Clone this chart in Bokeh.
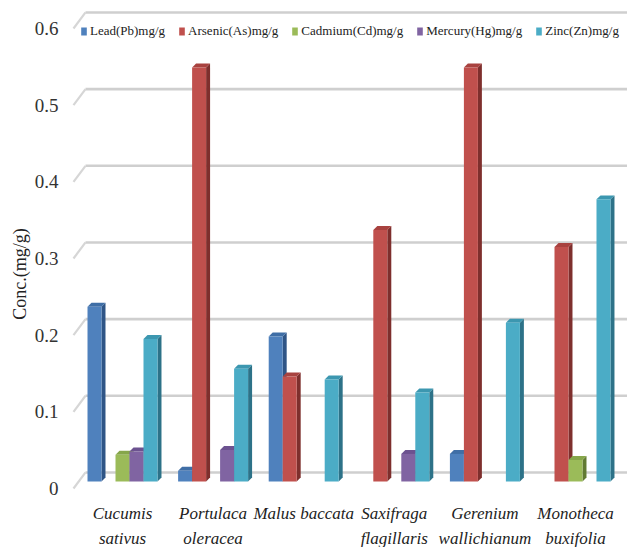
from bokeh.plotting import figure
from bokeh.models import Range1d, FixedTicker, Legend, LegendItem, ColumnDataSource
from bokeh.core.properties import value
from bokeh.embed import file_html
from bokeh.resources import INLINE

# ---- data -------------------------------------------------------------
species_line1 = ["Cucumis", "Portulaca", "Malus baccata", "Saxifraga", "Gerenium", "Monotheca"]
species_line2 = ["sativus", "oleracea", "", "flagillaris", "wallichianum", "buxifolia"]

series_names = ["Lead(Pb)mg/g", "Arsenic(As)mg/g", "Cadmium(Cd)mg/g",
                "Mercury(Hg)mg/g", "Zinc(Zn)mg/g"]
lead = [0.228, 0.014, 0.189, 0.0, 0.036, 0.0]
arsenic = [0.0, 0.540, 0.137, 0.328, 0.540, 0.306]
cadmium = [0.035, 0.0, 0.0, 0.0, 0.0, 0.028]
mercury = [0.039, 0.041, 0.0, 0.036, 0.0, 0.0]
zinc = [0.186, 0.147, 0.133, 0.116, 0.207, 0.368]

y_ticks = [0, 0.1, 0.2, 0.3, 0.4, 0.5, 0.6]
y_tick_labels = ["0", "0.1", "0.2", "0.3", "0.4", "0.5", "0.6"]

# front, top and side shades for each series
front_colors = ["#4F81BD", "#C0504D", "#9BBB59", "#8064A2", "#4BACC6"]
top_colors = ["#3F6EA6", "#A8423F", "#86A64A", "#6C5290", "#3C97B0"]
side_colors = ["#2F5586", "#7E2F2D", "#617A33", "#503C6C", "#2D7288"]

all_series = [lead, arsenic, cadmium, mercury, zinc]

SERIF = "serif"

# ---- geometry (data units) --------------------------------------------
bar_w = 0.1545          # width of one bar inside a group
depth_x = 0.044         # 3-D extrusion to the right
depth_y = 0.0052        # 3-D extrusion upwards
floor = 0.0091          # front floor level of the bars
wall = 0.0209           # back wall shift of the gridlines
x_lo, x_hi = -0.574, 5.574
y_lo, y_hi = -0.077, 0.6365

p = figure(width=627, height=547, output_backend="svg", toolbar_location=None,
           x_range=Range1d(x_lo, x_hi), y_range=Range1d(y_lo, y_hi),
           min_border_left=70, min_border_right=0, min_border_top=0,
           min_border_bottom=0, outline_line_color=None,
           background_fill_color="white", border_fill_color="white")
p.xaxis.visible = False
p.xgrid.visible = False
p.ygrid.visible = False

ax = p.yaxis[0]
ax.ticker = FixedTicker(ticks=y_ticks)
ax.major_label_overrides = {t: s for t, s in zip(y_ticks, y_tick_labels)}
ax.axis_line_color = None
ax.major_tick_line_color = None
ax.minor_tick_line_color = None
ax.major_label_standoff = 6
ax.major_label_text_font = SERIF
ax.major_label_text_font_size = "19px"
ax.major_label_text_color = "#333333"
ax.axis_label = "Conc.(mg/g)"
ax.axis_label_text_font = SERIF
ax.axis_label_text_font_size = "18px"
ax.axis_label_text_font_style = "normal"
ax.axis_label_text_color = "#222222"
ax.axis_label_standoff = 2

# ---- back wall gridlines with slanted lead-ins ------------------------
wall_left = x_lo + 15 / 90.6
slant_left = x_lo + 3 / 90.6
p.segment(x0=[wall_left] * len(y_ticks), y0=[t + wall for t in y_ticks],
          x1=[x_hi] * len(y_ticks), y1=[t + wall for t in y_ticks],
          line_color="#cfcfcf", line_width=2.6)
p.segment(x0=[slant_left] * len(y_ticks), y0=y_ticks,
          x1=[wall_left] * len(y_ticks), y1=[t + wall for t in y_ticks],
          line_color="#d6d6d6", line_width=2.2)

# ---- 3-D bars ---------------------------------------------------------
legend_items = []
for j, vals in enumerate(all_series):
    fl, fr, fb, ft = [], [], [], []
    side_xs, side_ys, top_xs, top_ys = [], [], [], []
    for i, v in enumerate(vals):
        if v <= 0:
            continue
        left = i + (j - 2) * bar_w - bar_w / 2
        right = left + bar_w
        top = floor + v
        fl.append(left); fr.append(right); fb.append(floor); ft.append(top)
        side_xs.append([right, right + depth_x, right + depth_x, right])
        side_ys.append([floor, floor + depth_y, top + depth_y, top])
        top_xs.append([left, left + depth_x, right + depth_x, right])
        top_ys.append([top, top + depth_y, top + depth_y, top])
    p.patches(xs=side_xs, ys=side_ys, fill_color=side_colors[j], line_color=None)
    p.patches(xs=top_xs, ys=top_ys, fill_color=top_colors[j], line_color=None)
    r = p.quad(left=fl, right=fr, bottom=fb, top=ft,
               fill_color=front_colors[j], line_color=None)
    legend_items.append(LegendItem(label=series_names[j], renderers=[r]))

# ---- category labels (two lines, italic) ------------------------------
xs = list(range(len(species_line1)))
lab = ColumnDataSource(dict(x=xs, l1=species_line1, l2=species_line2,
                            y1=[-0.0326] * len(xs), y2=[-0.0652] * len(xs)))
for col, ycol in (("l1", "y1"), ("l2", "y2")):
    p.text(x="x", y=ycol, text=col, source=lab, text_align="center",
           text_baseline="middle", text_font=value(SERIF),
           text_font_size="17px", text_font_style="italic", text_color="#222222")

# ---- legend -----------------------------------------------------------
legend = Legend(items=legend_items, orientation="horizontal",
                location=(10, 508), glyph_width=7, glyph_height=10,
                label_standoff=3, spacing=13, padding=0, margin=0,
                label_text_font=SERIF, label_text_font_size="13px",
                label_text_color="#222222", background_fill_alpha=0,
                border_line_color=None, label_height=14)
p.add_layout(legend)

open("out.html", "w").write(file_html(p, INLINE))
